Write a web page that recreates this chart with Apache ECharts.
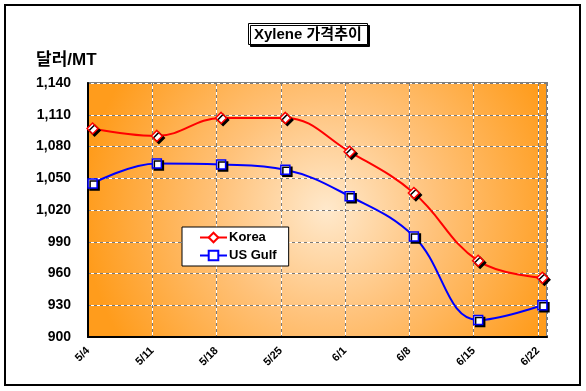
<!DOCTYPE html>
<html>
<head>
<meta charset="utf-8">
<script src="https://cdn.jsdelivr.net/npm/echarts@6/dist/echarts.min.js"></script>
<style>
html,body{margin:0;padding:0;background:#fff;}
#chart{width:586px;height:391px;}
</style>
</head>
<body>
<div id="chart"></div>
<script>
var categories = ['5/4','5/11','5/18','5/25','6/1','6/8','6/15','6/22'];
var korea = [1097,1090,1107,1107,1075,1036,972,956];
var usGulf = [1045,1064,1063,1058,1033,995,916,930];
var yTicks = [900,930,960,990,1020,1050,1080,1110,1140];

var DAYS_PER_STEP = 7;
var POINT_OFFSET = 0.5;
function toPoints(vals){
  return vals.map(function(v,i){ return [i*DAYS_PER_STEP + POINT_OFFSET, v]; });
}
var FONT = "'Liberation Sans','Noto Sans CJK KR',Arial,sans-serif";

var chart = echarts.init(document.getElementById('chart'), null, {renderer:'canvas'});
var xBase = {
  type:'value', min:0, max:50, interval:7, gridIndex:0
};
var yBase = {
  type:'value', min:yTicks[0], max:yTicks[yTicks.length-1], interval:30
};
var markerShadow = {shadowColor:'#000', shadowBlur:0, shadowOffsetX:2, shadowOffsetY:2};

chart.setOption({
  animation:false,
  backgroundColor:'#fff',
  title:{
    text:'Xylene 가격추이',
    left:248, top:23,
    padding:[4,6,3,6],
    backgroundColor:'#fff',
    borderColor:'#000', borderWidth:1,
    shadowColor:'#000', shadowBlur:0, shadowOffsetX:2, shadowOffsetY:2,
    textStyle:{fontFamily:FONT, fontSize:15, fontWeight:'bold', color:'#000'}
  },
  legend:{
    orient:'vertical', left:182, top:227,
    backgroundColor:'#fff', borderColor:'#000', borderWidth:1,
    padding:[4,12,4,17], itemGap:5, itemWidth:27, itemHeight:12,
    textStyle:{fontFamily:FONT, fontSize:13, fontWeight:'bold', color:'#000', padding:[0,0,0,-3]},
    data:['Korea','US Gulf']
  },
  grid:{
    left:88, right:39, top:83, bottom:54,
    show:true,
    borderColor:'#808080', borderWidth:2,
    backgroundColor:{
      type:'radial', x:0.52, y:0.5, r:0.95,
      colorStops:[
        {offset:0, color:'#FFE9CC'},
        {offset:0.45, color:'#FFC27A'},
        {offset:1, color:'#FF9C1C'}
      ]
    }
  },
  graphic:[
    {type:'rect', shape:{x:5, y:5, width:575, height:380}, style:{fill:'none', stroke:'#000', lineWidth:2}, z:-1},
    {type:'text', left:36, top:52, style:{text:'달러/MT', fontFamily:FONT, fontSize:17, fontWeight:'bold', fill:'#000'}}
  ],
  xAxis:[
    Object.assign({}, xBase, {
      position:'bottom', z:1,
      axisLine:{show:true, lineStyle:{color:'#000', width:2}},
      axisTick:{show:false},
      axisLabel:{
        rotate:45, margin:12, fontFamily:FONT, fontSize:11, fontWeight:'bold', color:'#000',
        formatter:function(v){ var i=v/DAYS_PER_STEP; return (Math.abs(i-Math.round(i))<1e-6 && categories[Math.round(i)]) ? categories[Math.round(i)] : ''; }
      },
      splitLine:{show:true, lineStyle:{color:'#7a7a7a', type:[3,3], width:1}}
    }),
    Object.assign({}, xBase, {
      position:'top', z:0,
      axisLine:{show:false}, axisTick:{show:false}, axisLabel:{show:false},
      splitLine:{show:true, lineStyle:{color:'#ffffff', width:1}}
    })
  ],
  yAxis:[
    Object.assign({}, yBase, {
      position:'left', z:1,
      axisLine:{show:true, lineStyle:{color:'#000', width:2}},
      axisTick:{show:false},
      axisLabel:{
        margin:17, fontFamily:FONT, fontSize:14, fontWeight:'bold', color:'#000',
        formatter:function(v){ return v.toLocaleString('en-US'); }
      },
      splitLine:{show:true, lineStyle:{color:'#7a7a7a', type:[3,3], width:1}}
    }),
    Object.assign({}, yBase, {
      position:'right', z:0,
      axisLine:{show:false}, axisTick:{show:false}, axisLabel:{show:false},
      splitLine:{show:true, lineStyle:{color:'#ffffff', width:1}}
    })
  ],
  series:[
    {
      name:'Korea', type:'line', xAxisIndex:0, yAxisIndex:0,
      data:toPoints(korea), smooth:0.4,
      symbol:'diamond', symbolSize:11,
      lineStyle:{color:'#FF0000', width:2},
      itemStyle:Object.assign({color:'#fff', borderColor:'#FF0000', borderWidth:1.5}, markerShadow),
      z:3
    },
    {
      name:'US Gulf', type:'line', xAxisIndex:0, yAxisIndex:0,
      data:toPoints(usGulf), smooth:0.4,
      symbol:'rect', symbolSize:9,
      lineStyle:{color:'#0000FF', width:2},
      itemStyle:Object.assign({color:'#fff', borderColor:'#0000FF', borderWidth:1.5}, markerShadow),
      z:3
    }
  ]
});
</script>
</body>
</html>
